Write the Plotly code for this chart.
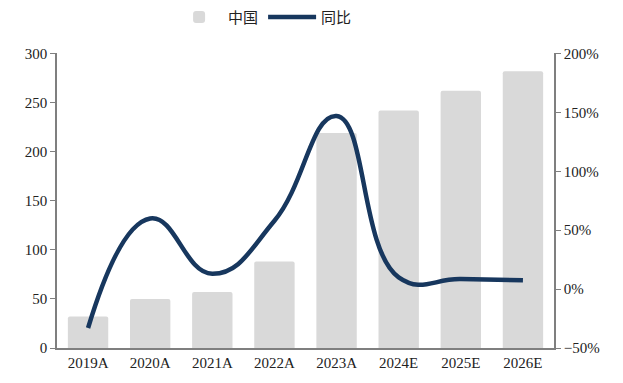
import plotly.graph_objects as go

categories = ["2019A", "2020A", "2021A", "2022A", "2023A", "2024E", "2025E", "2026E"]
china = [32, 50, 57, 88, 219, 242, 262, 282]
yoy = [-33, 60, 13, 58, 147, 10, 8.5, 7.5]

font_family = "Liberation Serif, Noto Sans CJK SC, serif"

fig = go.Figure()
fig.add_trace(go.Bar(
    x=categories, y=china, name="中国",
    marker=dict(color="#d9d9d9", line=dict(width=0)),
    width=0.65,
))
fig.add_trace(go.Scatter(
    x=categories, y=yoy, name="同比", yaxis="y2",
    mode="lines",
    line=dict(color="#17375e", width=4.5, shape="spline", smoothing=1.3),
))

fig.update_layout(
    width=623, height=383,
    margin=dict(l=57, r=69, t=49, b=35),
    paper_bgcolor="white", plot_bgcolor="white",
    font=dict(family=font_family, size=15, color="#222"),
    barcornerradius=2,
    showlegend=True,
    legend=dict(orientation="h", xref="container", yref="container",
                x=0.273, xanchor="left", y=0.955, yanchor="middle",
                font=dict(size=15, family=font_family), itemwidth=48, traceorder="normal"),
    xaxis=dict(
        type="category", range=[-0.5, 7.5],
        showline=True, linecolor="#7f7f7f", linewidth=1.5,
        ticks="", showgrid=False, tickfont=dict(size=15),
    ),
    yaxis=dict(
        range=[0, 300], dtick=50, tick0=0,
        showline=True, linecolor="#7f7f7f", linewidth=1.5,
        ticks="outside", ticklen=5, tickcolor="#7f7f7f",
        showgrid=False, zeroline=False, tickfont=dict(size=15),
    ),
    yaxis2=dict(
        overlaying="y", side="right",
        range=[-50, 200], dtick=50, tick0=-50, ticksuffix="%",
        showline=True, linecolor="#7f7f7f", linewidth=1.5,
        ticks="outside", ticklen=5, tickcolor="#7f7f7f",
        showgrid=False, zeroline=False, tickfont=dict(size=15),
    ),
)

fig.write_html("out.html")
